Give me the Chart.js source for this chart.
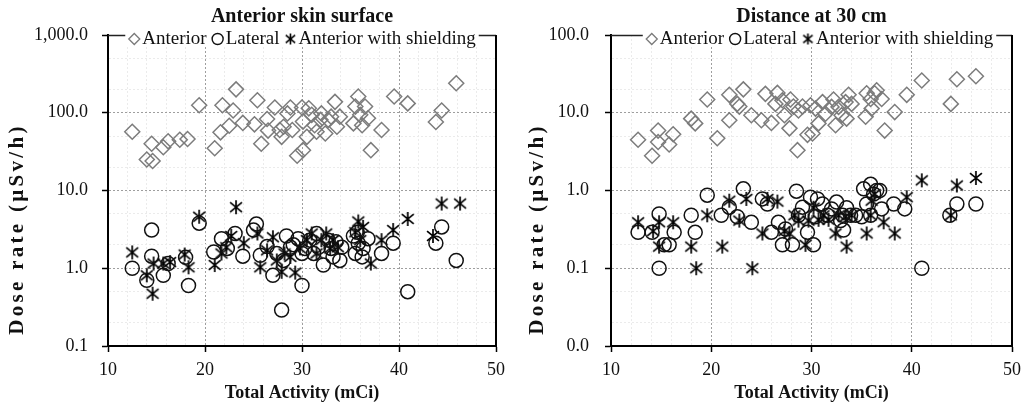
<!DOCTYPE html>
<html><head><meta charset="utf-8">
<script src="https://cdn.jsdelivr.net/npm/chart.js@4.4.0/dist/chart.umd.min.js"></script>
<style>
html,body{margin:0;padding:0;background:#fff;}
#wrap{position:relative;width:1021px;height:404px;overflow:hidden;background:#fff;}
canvas{position:absolute;top:0;}
#c1{left:0;} #c2{left:510px;}
</style></head><body>
<div id="wrap"><canvas id="c1" width="510" height="404"></canvas><canvas id="c2" width="511" height="404"></canvas></div>
<script>
// ---------- labels & ticks ----------
const seriesNames = ['Anterior', 'Lateral', 'Anterior with shielding'];
const chartTitles = ['Anterior skin surface', 'Distance at 30 cm'];
const xTitle = 'Total Activity (mCi)';
const yTitle = 'Dose rate (\u00B5Sv/h)';
const xMajorTicks = [10, 20, 30, 40, 50];
const xMinorTicks = [12, 14, 16, 18, 22, 24, 26, 28, 32, 34, 36, 38, 42, 44, 46, 48];
const yMajorSkin = [0.1, 1, 10, 100, 1000];
const yMinorSkin = [0.2, 0.5, 2, 5, 20, 50, 200, 500];
const yMajor30 = [0.01, 0.1, 1, 10, 100];
const yMinor30 = [0.02, 0.05, 0.2, 0.5, 2, 5, 20, 50];

// ---------- data: anterior skin surface ----------
const skinAntX = [12.5,14.5,14.0,14.6,15.7,16.2,17.4,18.2,19.4,21.0,21.6,21.8,22.5,22.9,23.2,23.9,25.1,25.4,25.8,26.4,26.5,27.2,27.7,27.9,28.1,28.5,28.8,29.0,29.5,30.1,30.0,30.1,30.5,30.7,31.0,31.3,31.5,31.9,32.0,32.4,32.7,33.0,33.4,33.6,33.9,35.3,35.5,35.8,36.0,36.2,36.5,36.8,37.1,38.2,39.5,40.9,43.8,44.4,45.9];
const skinAntY = [57,40,25,24,36,43,45,46,125,35,56,125,68,107,200,74,71,145,40,83,59,117,60,49,66,98,117,60,28,33,117,77,49,114,94,69,57,81,98,54,81,89,138,66,89,73,120,162,94,69,120,85,33,60,162,132,76,107,240];
const skinLatX = [12.5,14.5,14.5,14.0,15.7,16.2,18.0,18.3,19.4,20.9,21.7,22.3,23.1,23.9,25.0,25.3,25.7,26.4,27.0,27.4,27.9,28.1,28.4,28.8,29.1,29.6,30.0,30.0,30.3,30.8,31.2,31.5,31.7,32.2,32.7,33.0,33.2,33.5,33.9,34.1,35.3,35.5,35.7,35.8,36.2,36.3,36.8,38.2,39.4,40.9,43.8,44.4,45.9];
const skinLatY = [1.0,3.1,1.43,0.70,0.81,1.15,1.38,0.60,3.8,1.62,2.4,1.8,2.8,1.43,3.1,3.7,1.47,1.9,0.81,1.55,0.29,1.26,2.6,1.86,2.0,2.4,0.60,1.55,1.8,2.3,1.55,2.8,1.86,1.1,2.3,1.8,1.4,2.2,1.26,1.86,2.6,1.55,2.9,2.1,1.4,1.8,2.4,1.55,2.1,0.50,2.1,3.4,1.26];
const skinShX = [12.5,14.0,14.6,14.7,15.7,16.4,17.9,18.3,19.4,21.0,21.7,22.2,22.7,23.2,24.0,25.4,25.7,26.4,27.0,27.4,27.9,28.2,28.8,29.3,29.8,30.5,31.0,31.5,32.0,32.5,32.9,33.2,33.7,35.5,35.8,36.0,36.3,37.1,38.2,39.4,40.9,43.5,44.4,46.3];
const skinShY = [1.6,0.81,0.47,1.15,1.15,1.2,1.5,1.03,4.6,1.1,1.55,1.86,2.6,6.1,2.1,2.8,1.03,1.7,2.5,1.26,0.9,1.55,1.4,0.88,1.8,2.3,2.8,1.55,2.3,2.8,1.8,2.3,1.86,2.9,4.0,2.3,3.4,1.15,2.3,3.1,4.3,2.6,6.8,6.8];

// ---------- data: distance at 30 cm ----------
const d30AntX = [12.7,14.1,14.7,14.7,15.8,16.2,18.0,18.4,19.6,20.6,21.8,21.8,22.6,22.8,23.2,24.0,25.0,25.4,26.0,26.6,26.4,27.3,27.1,27.8,27.9,28.2,28.6,28.7,29.1,29.6,30.1,29.9,30.4,30.7,31.1,31.4,32.0,32.2,32.4,32.7,33.0,33.4,33.5,33.7,34.0,35.4,35.5,35.9,36.0,36.3,36.5,37.0,37.3,38.3,39.5,41.0,43.9,44.5,46.4];
const d30AntY = [4.5,2.8,5.9,4.2,3.9,5.3,8.4,7.3,14.8,4.7,8.0,17,13,12,20,9.3,8.0,17.5,7.4,18,13,9.3,14.5,6.3,14.8,12,3.3,10.7,12,5.2,5.4,12.5,11.3,7.3,13.7,9.7,11.9,14.8,6.9,11.9,9.3,13.7,8.4,17,13,8.9,17.8,15,11.3,17.8,19.5,15,5.9,10.2,17,26,13,27,29.5];
const d30LatX = [12.7,14.1,14.8,14.8,15.3,15.8,16.3,18.0,18.4,19.6,21.0,21.8,22.6,23.2,24.0,25.1,25.6,26.0,26.7,27.1,27.4,28.1,28.5,28.7,29.1,29.6,29.9,30.2,30.4,30.6,31.1,31.6,32.0,32.5,32.9,33.1,33.2,33.5,33.9,34.4,35.0,35.2,35.5,35.9,35.9,36.2,36.5,36.8,37.0,38.2,39.3,41.0,43.8,44.5,46.4];
const d30LatY = [0.29,0.29,0.50,0.10,0.20,0.20,0.29,0.48,0.29,0.87,0.48,0.61,0.46,1.05,0.39,0.78,0.67,0.29,0.39,0.20,0.32,0.20,0.98,0.48,0.61,0.29,0.82,0.20,0.46,0.78,0.67,0.48,0.58,0.71,0.41,0.48,0.31,0.60,0.48,0.48,0.46,1.05,0.67,1.2,0.48,0.9,1.0,1.0,0.58,0.67,0.58,0.10,0.48,0.67,0.67];
const d30ShX = [12.7,14.2,14.8,14.8,16.2,18.0,18.5,19.6,21.1,21.8,22.8,23.5,24.1,25.1,25.6,26.6,27.3,27.8,28.3,28.7,29.4,29.7,30.2,30.7,31.2,31.7,32.4,32.7,33.4,33.5,34.0,35.5,35.9,36.0,36.3,37.2,38.3,39.5,41.0,43.9,44.5,46.4];
const d30ShY = [0.39,0.30,0.39,0.19,0.39,0.19,0.10,0.48,0.19,0.74,0.41,0.78,0.10,0.28,0.78,0.72,0.30,0.28,0.48,0.41,0.20,0.41,0.60,0.42,0.48,0.42,0.28,0.48,0.46,0.19,0.48,0.28,0.48,0.74,0.90,0.39,0.28,0.82,1.35,0.48,1.16,1.45];

// ---------- helpers ----------
const FONT = '"Liberation Serif", "Times New Roman", serif';
const pts = (xs, ys) => xs.map((x, i) => ({x: x, y: ys[i]}));

function starCanvas(s, lw) {
  const c = document.createElement('canvas');
  c.width = s; c.height = s;
  const g = c.getContext('2d');
  g.strokeStyle = '#000'; g.lineWidth = lw; g.lineCap = 'butt';
  const m = s / 2, r = s / 2 - 1, dx = r * 0.85, dy = r * 0.7;
  g.beginPath();
  g.moveTo(m, m - r); g.lineTo(m, m + r);
  g.moveTo(m - dx, m - dy); g.lineTo(m + dx, m + dy);
  g.moveTo(m + dx, m - dy); g.lineTo(m - dx, m + dy);
  g.stroke();
  return c;
}
const starBig = starCanvas(16, 1.7);
const starSmall = starCanvas(13, 1.6);

function drawLegendMarker(ctx, kind, x, y) {
  ctx.save();
  if (kind === 0) {
    ctx.strokeStyle = '#7a7a7a'; ctx.lineWidth = 1.3;
    const r = 5.5;
    ctx.beginPath(); ctx.moveTo(x - r, y); ctx.lineTo(x, y - r); ctx.lineTo(x + r, y); ctx.lineTo(x, y + r); ctx.closePath(); ctx.stroke();
  } else if (kind === 1) {
    ctx.strokeStyle = '#111'; ctx.lineWidth = 1.4;
    ctx.beginPath(); ctx.arc(x, y, 5.5, 0, Math.PI * 2); ctx.stroke();
  } else {
    ctx.drawImage(starSmall, x - starSmall.width / 2, y - starSmall.height / 2);
  }
  ctx.restore();
}

const frameLegendPlugin = {
  id: 'frameLegend',
  beforeDatasetsDraw(chart) {
    const ctx = chart.ctx, a = chart.chartArea;
    ctx.save();
    ctx.strokeStyle = '#222'; ctx.lineWidth = 1.5;
    ctx.beginPath(); ctx.moveTo(a.left, a.top + 0.5); ctx.lineTo(a.right, a.top + 0.5); ctx.stroke();
    ctx.strokeStyle = '#000'; ctx.lineWidth = 2;
    ctx.beginPath(); ctx.moveTo(a.right, a.top); ctx.lineTo(a.right, a.bottom); ctx.stroke();
    ctx.restore();
  },
  afterDatasetsDraw(chart, args, opts) {
    const ctx = chart.ctx, a = chart.chartArea;
    ctx.save();
    ctx.font = '19px ' + FONT;
    const mk = 12, gap1 = 2, gap2 = 5;
    const items = chart.data.datasets.map((ds, i) => ({label: ds.label, kind: i, w: ctx.measureText(ds.label).width}));
    let total = 0;
    items.forEach(it => total += mk + gap1 + it.w);
    total += gap2 * (items.length - 1);
    let x = (a.left + a.right) / 2 + opts.shift - total / 2;
    const y = a.top + opts.dy;
    ctx.fillStyle = '#fff';
    ctx.fillRect(x - 3, a.top - 8, total + 6, 18);
    ctx.fillStyle = '#111';
    ctx.textBaseline = 'middle';
    ctx.textAlign = 'left';
    items.forEach(it => {
      drawLegendMarker(ctx, it.kind, x + mk / 2, y);
      x += mk + gap1;
      ctx.fillText(it.label, x, y);
      x += it.w + gap2;
    });
    ctx.restore();
  },
  afterDraw(chart, args, opts) {
    const ctx = chart.ctx;
    ctx.save();
    ctx.font = 'bold 21px ' + FONT;
    ctx.fillStyle = '#111';
    const w = ctx.measureText(yTitle).width;
    const n = [...yTitle].length;
    ctx.letterSpacing = Math.max(0, (opts.yTitleLen - w) / (n - 1)).toFixed(2) + 'px';
    ctx.translate(opts.yTitleX, opts.yTitleY);
    ctx.rotate(-Math.PI / 2);
    ctx.textAlign = 'center'; ctx.textBaseline = 'middle';
    ctx.fillText(yTitle, 0, 0);
    ctx.restore();
  }
};

function makeChart(id, title, data, yMajor, yMinor, yMin, yMax, cfg) {
  const xAll = xMajorTicks.concat(xMinorTicks).sort((a, b) => a - b);
  const yAll = yMajor.concat(yMinor).sort((a, b) => a - b);
  return new Chart(document.getElementById(id), {
    type: 'scatter',
    data: {
      datasets: [
        {label: seriesNames[0], data: data[0], pointStyle: 'rectRot', radius: 7.5, borderColor: '#7c7c7c', backgroundColor: 'rgba(0,0,0,0)', borderWidth: 1.5},
        {label: seriesNames[1], data: data[1], pointStyle: 'circle', radius: 7, borderColor: '#111', backgroundColor: 'rgba(0,0,0,0)', borderWidth: 1.5},
        {label: seriesNames[2], data: data[2], pointStyle: starBig, radius: 8, borderColor: '#000', backgroundColor: '#000'}
      ]
    },
    options: {
      responsive: false, animation: false, devicePixelRatio: 1, events: [],
      layout: {padding: {left: 0, right: cfg.padRight, top: 0, bottom: 0}},
      plugins: {
        legend: {display: false},
        tooltip: {enabled: false},
        title: {display: true, text: title, fullSize: false, color: '#111',
          font: {family: FONT, size: 20, weight: 'bold', lineHeight: 1}, padding: {top: 7, bottom: 8}},
        frameLegend: {shift: cfg.legendShift, dy: 4, yTitleX: cfg.yTitleX, yTitleY: 229, yTitleLen: 208}
      },
      scales: {
        x: {
          type: 'linear', min: 10, max: 50,
          afterBuildTicks: s => { s.ticks = xAll.map(v => ({value: v})); },
          afterFit: s => { s.height = 58; s.paddingLeft = 0; s.paddingRight = 0; },
          ticks: {autoSkip: false, maxRotation: 0, minRotation: 0, padding: 7, color: '#111',
            font: {family: FONT, size: 18},
            callback: v => xMajorTicks.includes(v) ? String(v) : ''},
          grid: {
            color: c => (c.tick && xMajorTicks.includes(c.tick.value)) ? '#9e9e9e' : '#ebebeb',
            tickColor: c => (c.tick && xMajorTicks.includes(c.tick.value)) ? '#000' : 'rgba(0,0,0,0)',
            tickLength: 6, lineWidth: 1, tickWidth: 1.5
          },
          border: {color: '#000', width: 2, dash: [2, 2]},
          title: {display: true, text: xTitle, color: '#111', font: {family: FONT, size: 18, weight: 'bold'}, padding: {top: 0, bottom: 0}}
        },
        y: {
          type: 'logarithmic', min: yMin, max: yMax,
          afterBuildTicks: s => { s.ticks = yAll.map(v => ({value: v, major: yMajor.includes(v)})); },
          afterFit: s => { s.width = cfg.yWidth; s.paddingTop = 0; s.paddingBottom = 0; },
          ticks: {autoSkip: false, padding: cfg.yPad, color: '#111', font: {family: FONT, size: 18},
            callback: v => yMajor.includes(v) ? Number(v).toLocaleString('en-US', {minimumFractionDigits: 1, maximumFractionDigits: 1}) : ''},
          grid: {
            color: c => (c.tick && yMajor.includes(c.tick.value)) ? '#9e9e9e' : '#ebebeb',
            tickColor: c => (c.tick && yMajor.includes(c.tick.value)) ? '#000' : 'rgba(0,0,0,0)',
            tickLength: 6, lineWidth: 1, tickWidth: 1.5
          },
          border: {color: '#000', width: 2, dash: [2, 2]}
        }
      }
    },
    plugins: [frameLegendPlugin]
  });
}

makeChart('c1', chartTitles[0],
  [pts(skinAntX, skinAntY), pts(skinLatX, skinLatY), pts(skinShX, skinShY)],
  yMajorSkin, yMinorSkin, 0.1, 1000,
  {padRight: 14, yWidth: 108, yPad: 14, legendShift: 0, yTitleX: 18});
makeChart('c2', chartTitles[1],
  [pts(d30AntX, d30AntY), pts(d30LatX, d30LatY), pts(d30ShX, d30ShY)],
  yMajor30, yMinor30, 0.01, 100,
  {padRight: 7, yWidth: 101, yPad: 16, legendShift: 8, yTitleX: 28});
</script>
</body></html>
